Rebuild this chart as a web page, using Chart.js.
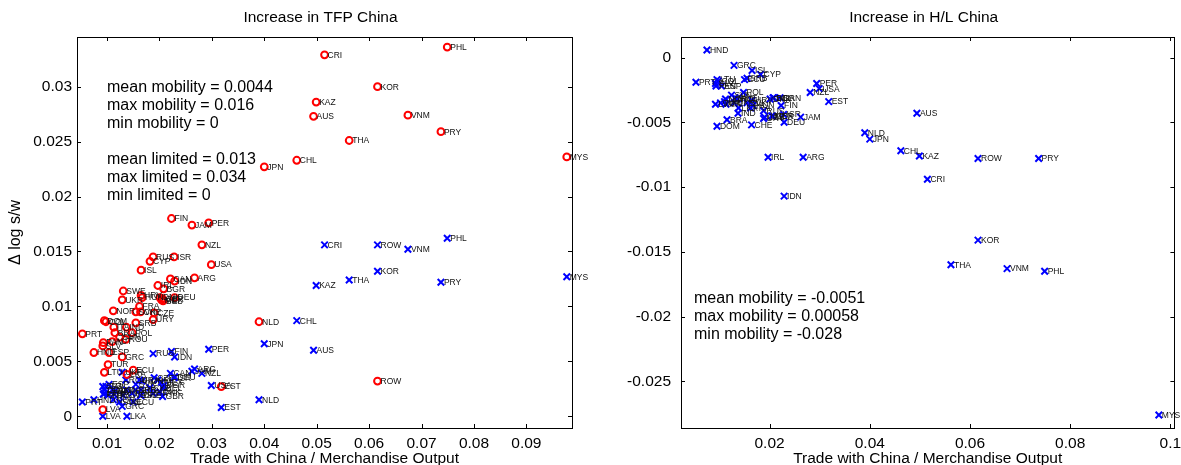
<!DOCTYPE html>
<html lang="en">
<head>
    <meta charset="UTF-8">
    <title>Trade with China</title>
    <script src="https://cdn.jsdelivr.net/npm/chart.js"></script>
    <style>
        body {
            margin: 0;
            background: #fff;
            width: 1181px;
            height: 465px;
            overflow: hidden;
            position: relative;
        }

        .panel {
            position: absolute;
            top: 0;
            height: 465px;
        }

        #leftPanel { left: 0; width: 600px; }
        #rightPanel { left: 600px; width: 581px; }
    </style>
</head>
<body>
    <div class="panel" id="leftPanel"><canvas id="chartTfp" width="600" height="465"></canvas></div>
    <div class="panel" id="rightPanel"><canvas id="chartHl" width="581" height="465"></canvas></div>

    <script>
        // one entry per country, same order in every array
        const countries = ['PHL', 'CRI', 'KOR', 'KAZ', 'AUS', 'VNM', 'PRY', 'THA', 'MYS', 'CHL', 'JPN', 'ROW', 'NLD', 'EST', 'USA',
            'PER', 'NZL', 'ARG', 'JAM', 'FIN', 'ISR', 'IDN', 'CAN', 'DEU', 'IRL', 'BGR', 'DNK', 'MEX', 'BEL', 'GBR',
            'RUS', 'CZE', 'URY', 'CYP', 'ISL', 'HRV', 'HUN', 'CHE', 'FRA', 'SRB', 'SVK', 'ECU', 'POL', 'IND', 'LKA',
            'ROU', 'SWE', 'UKR', 'GRC', 'SVN', 'BRA', 'ITA', 'NOR', 'AUT', 'ESP', 'TUR', 'COL', 'DOM', 'LTU', 'SLV',
            'PAN', 'LVA', 'HND', 'PRT'];
        const tradeShare = [0.0749, 0.0515, 0.0616, 0.0499, 0.0494, 0.0674, 0.0737, 0.0562, 0.0977, 0.0462, 0.0400, 0.0616, 0.0390, 0.0318, 0.0299,
            0.0294, 0.0281, 0.0267, 0.0262, 0.0223, 0.0228, 0.0229, 0.0221, 0.0229, 0.0197, 0.0208, 0.0201, 0.0204, 0.0207, 0.0206,
            0.0188, 0.0190, 0.0188, 0.0182, 0.0165, 0.0165, 0.0167, 0.0164, 0.0162, 0.0155, 0.0155, 0.0150, 0.0148, 0.0137, 0.0138,
            0.0136, 0.0131, 0.0129, 0.0129, 0.0124, 0.0115, 0.0113, 0.0112, 0.0110, 0.0104, 0.0102, 0.0098, 0.0095, 0.0095, 0.0092,
            0.0093, 0.0092, 0.0075, 0.0053];
        // TFP shock, limited mobility (red circles)
        const tfpLimited = [0.0336, 0.0329, 0.0300, 0.0286, 0.0273, 0.0274, 0.0259, 0.0251, 0.0236, 0.0233, 0.0227, 0.0032, 0.0086, 0.0027, 0.0138,
            0.0176, 0.0156, 0.0126, 0.0174, 0.0180, 0.0145, 0.0123, 0.0125, 0.0108, 0.0119, 0.0116, 0.0108, 0.0106, 0.0105, 0.0107,
            0.0145, 0.0094, 0.0088, 0.0141, 0.0133, 0.0110, 0.0108, 0.0095, 0.0100, 0.0085, 0.0095, 0.0042, 0.0076, 0.0081, 0.0038,
            0.0070, 0.0114, 0.0106, 0.0054, 0.0072, 0.0076, 0.0081, 0.0096, 0.0068, 0.0058, 0.0047, 0.0086, 0.0087, 0.0040, 0.0064,
            0.0067, 0.0006, 0.0058, 0.0075];
        // TFP shock, full mobility (blue crosses)
        const tfpMobility = [0.0162, 0.0156, 0.0132, 0.0119, 0.0060, 0.0152, 0.0122, 0.0124, 0.0127, 0.0087, 0.0066, 0.0156, 0.0015, 0.0008, 0.0028,
            0.0061, 0.0039, 0.0043, 0.0041, 0.0059, 0.0035, 0.0054, 0.0039, 0.0036, 0.0033, 0.0028, 0.0022, 0.0031, 0.0026, 0.0018,
            0.0057, 0.0035, 0.0021, 0.0026, 0.0019, 0.0024, 0.0032, 0.0019, 0.0033, 0.0024, 0.0029, 0.0013, 0.0021, 0.0024, 0.0000,
            0.0033, 0.0019, 0.0040, 0.0009, 0.0013, 0.0023, 0.0020, 0.0015, 0.0024, 0.0029, 0.0019, 0.0027, 0.0024, 0.0021, 0.0027,
            0.0020, 0.0000, 0.0015, 0.0013];
        // H/L shock, full mobility
        const hlMobility = [-0.0165, -0.0094, -0.0141, -0.0076, -0.0043, -0.0163, -0.0078, -0.0160, -0.0276, -0.0072, -0.0063, -0.0078, -0.0058, -0.0034, -0.0024,
            -0.0020, -0.0027, -0.0077, -0.0046, -0.0037, -0.0044, -0.0107, -0.0031, -0.0050, -0.0077, -0.0031, -0.0032, -0.0045, -0.0031, -0.0045,
            -0.0041, -0.0046, -0.0047, -0.0013, -0.0010, -0.0033, -0.0037, -0.0052, -0.0039, -0.0016, -0.0035, -0.0017, -0.0027, -0.0043, -0.0039,
            -0.0032, -0.0031, -0.0035, -0.0006, -0.0029, -0.0048, -0.0036, -0.0032, -0.0034, -0.0022, -0.0035, -0.0018, -0.0053, -0.0017, -0.0020,
            -0.0022, -0.0036, 0.00058, -0.0019];

        const tfpXTicks = [0.01, 0.02, 0.03, 0.04, 0.05, 0.06, 0.07, 0.08, 0.09];
        const tfpXTickLabels = ['0.01', '0.02', '0.03', '0.04', '0.05', '0.06', '0.07', '0.08', '0.09'];
        const tfpYTicks = [0, 0.005, 0.01, 0.015, 0.02, 0.025, 0.03];
        const tfpYTickLabels = ['0', '0.005', '0.01', '0.015', '0.02', '0.025', '0.03'];
        const hlXTicks = [0.02, 0.04, 0.06, 0.08, 0.1];
        const hlXTickLabels = ['0.02', '0.04', '0.06', '0.08', '0.1'];
        const hlYTicks = [0, -0.005, -0.01, -0.015, -0.02, -0.025];
        const hlYTickLabels = ['0', '-0.005', '-0.01', '-0.015', '-0.02', '-0.025'];

        const tfpNotes = ['mean mobility = 0.0044', 'max mobility = 0.016', 'min mobility = 0', '',
            'mean limited = 0.013', 'max limited = 0.034', 'min limited = 0'];
        const hlNotes = ['mean mobility = -0.0051', 'max mobility = 0.00058', 'min mobility = -0.028'];

        const FONT = "'Liberation Sans', Arial, sans-serif";

        function points(ys) {
            return tradeShare.map((x, i) => ({ x, y: ys[i] }));
        }

        // box, inward tick marks, title, notes and country labels
        const decor = {
            id: 'decor',
            afterDatasetsDraw(chart) {
                const ctx = chart.ctx;
                ctx.save();
                ctx.font = '8.5px ' + FONT;
                ctx.fillStyle = '#111';
                ctx.textAlign = 'left';
                ctx.textBaseline = 'middle';
                chart.data.datasets.forEach((ds, d) => {
                    chart.getDatasetMeta(d).data.forEach((el, i) => {
                        ctx.fillText(countries[i], el.x + 3, el.y + 0.5);
                    });
                });
                ctx.restore();
            },
            afterDraw(chart, args, opts) {
                const { ctx, chartArea: a, scales } = chart;
                ctx.save();
                ctx.strokeStyle = '#000';
                ctx.lineWidth = 1;
                ctx.strokeRect(Math.round(a.left) + 0.5, Math.round(a.top) + 0.5,
                    Math.round(a.right - a.left), Math.round(a.bottom - a.top));
                ctx.beginPath();
                scales.x.ticks.forEach(t => {
                    const p = Math.round(scales.x.getPixelForValue(t.value)) + 0.5;
                    ctx.moveTo(p, a.bottom); ctx.lineTo(p, a.bottom - 4);
                    ctx.moveTo(p, a.top); ctx.lineTo(p, a.top + 4);
                });
                scales.y.ticks.forEach(t => {
                    const p = Math.round(scales.y.getPixelForValue(t.value)) + 0.5;
                    ctx.moveTo(a.left, p); ctx.lineTo(a.left + 4, p);
                    ctx.moveTo(a.right, p); ctx.lineTo(a.right - 4, p);
                });
                ctx.stroke();

                ctx.fillStyle = '#000';
                ctx.font = '15.5px ' + FONT;
                ctx.textAlign = 'center';
                ctx.textBaseline = 'middle';
                ctx.fillText(opts.title, (a.left + a.right) / 2 - 4, 18);

                ctx.font = '16px ' + FONT;
                ctx.textAlign = 'left';
                opts.notes.forEach((line, i) => {
                    ctx.fillText(line, a.left + opts.noteX, opts.noteY + i * 18);
                });
                ctx.restore();
            }
        };

        function makeChart(canvasId, datasets, cfg) {
            const tickFont = { family: FONT, size: 15.5 };
            return new Chart(document.getElementById(canvasId), {
                type: 'scatter',
                data: { datasets },
                options: {
                    responsive: false,
                    animation: false,
                    layout: { padding: { top: 37, right: cfg.padRight, left: 0, bottom: 0 } },
                    plugins: {
                        legend: { display: false },
                        tooltip: { enabled: false },
                        decor: { title: cfg.title, notes: cfg.notes, noteX: cfg.noteX, noteY: cfg.noteY }
                    },
                    scales: {
                        x: {
                            type: 'linear',
                            min: cfg.xMin,
                            max: cfg.xMax,
                            afterBuildTicks: s => { s.ticks = cfg.xTicks.map(v => ({ value: v })); },
                            afterFit: s => {
                                s.height = 37;
                                s.paddingLeft = 0; s.paddingRight = 0;
                            },
                            grid: { display: false, drawTicks: false },
                            border: { display: false },
                            ticks: {
                                font: tickFont, color: '#000', padding: 6, maxRotation: 0, autoSkip: false,
                                callback: (v, i) => cfg.xTickLabels[i]
                            },
                            title: {
                                display: true, text: 'Trade with China / Merchandise Output',
                                font: tickFont, color: '#000', padding: { top: 0, bottom: -3 }
                            }
                        },
                        y: {
                            type: 'linear',
                            min: cfg.yMin,
                            max: cfg.yMax,
                            afterBuildTicks: s => { s.ticks = cfg.yTicks.map(v => ({ value: v })); },
                            afterFit: s => {
                                s.width = cfg.yWidth;
                                s.paddingTop = 0; s.paddingBottom = 0;
                            },
                            grid: { display: false, drawTicks: false },
                            border: { display: false },
                            ticks: {
                                font: tickFont, color: '#000', padding: cfg.yPad, autoSkip: false,
                                callback: (v, i) => cfg.yTickLabels[i]
                            },
                            title: {
                                display: !!cfg.yTitle, text: cfg.yTitle || '',
                                font: { family: FONT, size: 16 }, color: '#000', padding: { top: 6, bottom: 0 }
                            }
                        }
                    }
                },
                plugins: [decor]
            });
        }

        const limitedStyle = {
            pointStyle: 'circle', pointRadius: 3.4, pointBorderWidth: 2,
            borderColor: '#ff0000', backgroundColor: 'rgba(255,255,255,0)'
        };
        const crossStyle = {
            pointStyle: 'crossRot', pointRadius: 4.6, pointBorderWidth: 2,
            borderColor: '#0000ff', backgroundColor: '#0000ff'
        };

        makeChart('chartTfp', [
            { label: 'limited', data: points(tfpLimited), ...limitedStyle },
            { label: 'mobility', data: points(tfpMobility), ...crossStyle }
        ], {
            title: 'Increase in TFP China', notes: tfpNotes, noteX: 30, noteY: 88,
            xMin: 0.00428, xMax: 0.0987, yMin: -0.00107, yMax: 0.03452,
            xTicks: tfpXTicks, xTickLabels: tfpXTickLabels, yTicks: tfpYTicks, yTickLabels: tfpYTickLabels,
            yWidth: 77, yPad: 5, padRight: 28, yTitle: 'Δ log s/w'
        });

        makeChart('chartHl', [
            { label: 'mobility', data: points(hlMobility), ...crossStyle }
        ], {
            title: 'Increase in H/L China', notes: hlNotes, noteX: 13, noteY: 299,
            xMin: 0.00232, xMax: 0.1008, yMin: -0.02861, yMax: 0.00159,
            xTicks: hlXTicks, xTickLabels: hlXTickLabels, yTicks: hlYTicks, yTickLabels: hlYTickLabels,
            yWidth: 81, yPad: 10, padRight: 3, yTitle: ''
        });
    </script>
</body>
</html>
